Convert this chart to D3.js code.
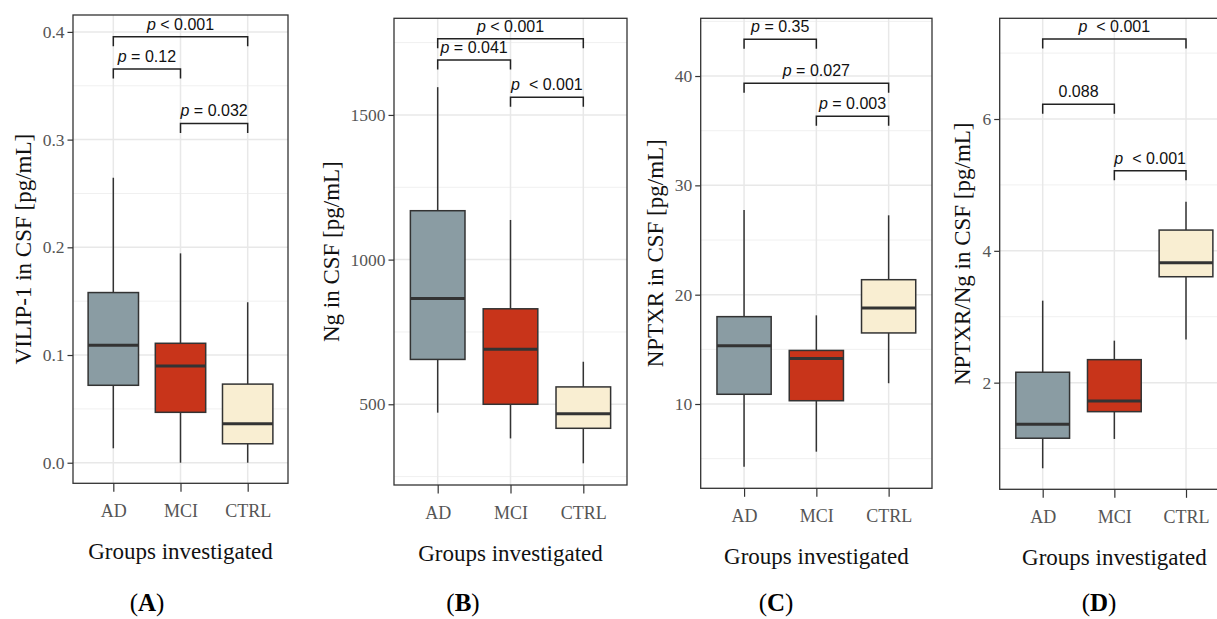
<!DOCTYPE html>
<html><head><meta charset="utf-8">
<script src="https://cdn.jsdelivr.net/npm/d3@7"></script>
<style>body{margin:0;background:#fff} svg{display:block}</style>
</head><body>
<svg id="chart" width="1217" height="619"></svg>
<script>
// ---------- data ----------
const groups = ["AD", "MCI", "CTRL"];
const groupColors = ["#8a9ca3", "#c8341a", "#f9eed2"];

// each box: [lower whisker, Q1, median, Q3, upper whisker]
const vilipBoxes = [[0.0134, 0.0719, 0.109, 0.158, 0.2646], [0.0, 0.0468, 0.0898, 0.1109, 0.1944], [0.0, 0.0176, 0.0362, 0.073, 0.149]];
const ngBoxes = [[471, 655, 866, 1169, 1596], [382, 500, 690, 830, 1137], [296, 417, 467, 560, 647]];
const nptxrBoxes = [[4.26, 10.89, 15.33, 17.99, 27.74], [5.64, 10.3, 14.17, 14.9, 18.11], [11.9, 16.5, 18.78, 21.37, 27.26]];
const ratioBoxes = [[0.701, 1.157, 1.369, 2.158, 3.244], [1.146, 1.56, 1.722, 2.349, 2.637], [2.655, 3.607, 3.82, 4.315, 4.745]];

const vilipTicks = [0, 0.1, 0.2, 0.3, 0.4];
const ngTicks = [500, 1000, 1500];
const nptxrTicks = [10, 20, 30, 40];
const ratioTicks = [2, 4, 6];

// pairwise tests: groups compared, bracket level (data units), italic p shown, text
const vilipTests = [
  {a: "AD", b: "CTRL", y: 0.3956, p: true, text: " < 0.001"},
  {a: "AD", b: "MCI", y: 0.3656, p: true, text: " = 0.12"},
  {a: "MCI", b: "CTRL", y: 0.315, p: true, text: " = 0.032"}
];
const ngTests = [
  {a: "AD", b: "CTRL", y: 1763, p: true, text: " < 0.001"},
  {a: "AD", b: "MCI", y: 1690, p: true, text: " = 0.041"},
  {a: "MCI", b: "CTRL", y: 1561, p: true, text: "  < 0.001"}
];
const nptxrTests = [
  {a: "AD", b: "MCI", y: 43.36, p: true, text: " = 0.35"},
  {a: "AD", b: "CTRL", y: 39.33, p: true, text: " = 0.027"},
  {a: "MCI", b: "CTRL", y: 36.31, p: true, text: " = 0.003"}
];
const ratioTests = [
  {a: "AD", b: "CTRL", y: 7.214, p: true, text: "  < 0.001"},
  {a: "AD", b: "MCI", y: 6.223, p: false, text: "0.088"},
  {a: "MCI", b: "CTRL", y: 5.216, p: true, text: "  < 0.001"}
];

const yTitles = ["VILIP-1 in CSF [pg/mL]", "Ng in CSF [pg/mL]", "NPTXR in CSF [pg/mL]", "NPTXR/Ng in CSF [pg/mL]"];
const panelLabels = ["A", "B", "C", "D"];
const xTitle = "Groups investigated";

// ---------- layout ----------
const panels = [
  {boxes: vilipBoxes, ticks: vilipTicks, tests: vilipTests, fmt: d3.format(".1f"), domain: [-0.0191, 0.4157], x0: 73, x1: 288, y0: 15, y1: 483.3},
  {boxes: ngBoxes, ticks: ngTicks, tests: ngTests, fmt: d3.format("d"), domain: [221, 1834], x0: 394, x1: 627, y0: 18.3, y1: 485},
  {boxes: nptxrBoxes, ticks: nptxrTicks, tests: nptxrTests, fmt: d3.format("d"), domain: [2.29, 45.28], x0: 700.7, x1: 932, y0: 18.3, y1: 488.3},
  {boxes: ratioBoxes, ticks: ratioTicks, tests: ratioTests, fmt: d3.format("d"), domain: [0.382, 7.528], x0: 999.7, x1: 1229, y0: 18.3, y1: 489.3}
];

const svg = d3.select("#chart");
const SERIF = "'Liberation Serif', 'Times New Roman', serif";
const SANS = "'Liberation Sans', Arial, sans-serif";
const INK = "#333333";

panels.forEach((P, i) => {
  const g = svg.append("g");
  // discrete x with ggplot expansion (0.6 units each side)
  const unit = (P.x1 - P.x0) / 3.2;
  const x = d3.scalePoint().domain(groups).range([P.x0 + 0.6 * unit, P.x1 - 0.6 * unit]);
  const y = d3.scaleLinear().domain(P.domain).range([P.y1, P.y0]);

  // minor grid values: midpoints of ticks, extended within domain
  const step = P.ticks[1] - P.ticks[0];
  const minor = [];
  for (let v = P.ticks[0] - step / 2; v <= P.domain[1]; v += step) {
    if (v >= P.domain[0]) minor.push(v);
  }
  g.selectAll(".minor").data(minor).join("line")
    .attr("x1", P.x0).attr("x2", P.x1)
    .attr("y1", d => y(d)).attr("y2", d => y(d))
    .attr("stroke", "#f0f0f0").attr("stroke-width", 1);
  g.selectAll(".major").data(P.ticks).join("line")
    .attr("x1", P.x0).attr("x2", P.x1)
    .attr("y1", d => y(d)).attr("y2", d => y(d))
    .attr("stroke", "#e8e8e8").attr("stroke-width", 1.5);
  g.selectAll(".vgrid").data(groups).join("line")
    .attr("x1", d => x(d)).attr("x2", d => x(d))
    .attr("y1", P.y0).attr("y2", P.y1)
    .attr("stroke", "#e8e8e8").attr("stroke-width", 1.5);

  // boxes
  const bw = 0.75 * unit;
  const bg = g.selectAll(".box").data(P.boxes).join("g");
  bg.append("line")
    .attr("x1", (d, k) => x(groups[k])).attr("x2", (d, k) => x(groups[k]))
    .attr("y1", d => y(d[4])).attr("y2", d => y(d[3]))
    .attr("stroke", INK).attr("stroke-width", 1.5);
  bg.append("line")
    .attr("x1", (d, k) => x(groups[k])).attr("x2", (d, k) => x(groups[k]))
    .attr("y1", d => y(d[1])).attr("y2", d => y(d[0]))
    .attr("stroke", INK).attr("stroke-width", 1.5);
  bg.append("rect")
    .attr("x", (d, k) => x(groups[k]) - bw / 2).attr("width", bw)
    .attr("y", d => y(d[3])).attr("height", d => y(d[1]) - y(d[3]))
    .attr("fill", (d, k) => groupColors[k])
    .attr("stroke", INK).attr("stroke-width", 1.5);
  bg.append("line")
    .attr("x1", (d, k) => x(groups[k]) - bw / 2).attr("x2", (d, k) => x(groups[k]) + bw / 2)
    .attr("y1", d => y(d[2])).attr("y2", d => y(d[2]))
    .attr("stroke", INK).attr("stroke-width", 3);

  // significance brackets
  const tip = 9.5;
  const tg = g.selectAll(".test").data(P.tests).join("g");
  tg.append("path")
    .attr("d", d => `M${x(d.a)},${y(d.y) + tip}V${y(d.y)}H${x(d.b)}V${y(d.y) + tip}`)
    .attr("fill", "none").attr("stroke", "#222").attr("stroke-width", 1.5);
  const tt = tg.append("text")
    .attr("x", d => (x(d.a) + x(d.b)) / 2)
    .attr("y", d => y(d.y) - 7)
    .attr("text-anchor", "middle")
    .attr("font-family", SANS).attr("font-size", 16).attr("fill", "#111")
    .style("white-space", "pre");
  tt.each(function(d) {
    const t = d3.select(this);
    if (d.p) t.append("tspan").attr("font-style", "italic").text("p");
    t.append("tspan").text(d.text);
  });

  // panel border
  g.append("rect")
    .attr("x", P.x0).attr("y", P.y0)
    .attr("width", P.x1 - P.x0).attr("height", P.y1 - P.y0)
    .attr("fill", "none").attr("stroke", INK).attr("stroke-width", 1.3);

  // y axis
  const yAxis = g.append("g").attr("transform", `translate(${P.x0},0)`)
    .call(d3.axisLeft(y).tickValues(P.ticks).tickFormat(P.fmt).tickSize(5.5).tickPadding(3));
  yAxis.select(".domain").remove();
  yAxis.selectAll(".tick line").attr("stroke", INK).attr("stroke-width", 1.2);
  yAxis.selectAll(".tick text").attr("font-family", SERIF).attr("font-size", 17.5).attr("fill", "#555");

  // x axis
  const xAxis = g.append("g").attr("transform", `translate(0,${P.y1})`)
    .call(d3.axisBottom(x).tickSize(8.5).tickPadding(0));
  xAxis.select(".domain").remove();
  xAxis.selectAll(".tick line").attr("stroke", INK).attr("stroke-width", 1.2);
  xAxis.selectAll(".tick text").attr("font-family", SERIF).attr("font-size", 18).attr("fill", "#555")
    .attr("dy", null).attr("y", 34);

  // y title (placed left of tick labels)
  const bb = yAxis.node().getBBox();
  const ty = (P.y0 + P.y1) / 2;
  const tx = P.x0 + bb.x - 12;
  g.append("text")
    .attr("transform", `translate(${tx},${ty}) rotate(-90)`)
    .attr("text-anchor", "middle")
    .attr("font-family", SERIF).attr("font-size", 23).attr("fill", "#111")
    .text(yTitles[i]);

  // x title
  const cx = (x(groups[0]) + x(groups[2])) / 2;
  g.append("text")
    .attr("x", cx).attr("y", P.y1 + 76)
    .attr("text-anchor", "middle")
    .attr("font-family", SERIF).attr("font-size", 23).attr("fill", "#111")
    .text(xTitle);

  // panel label
  const lx = [147, 463, 776, 1099][i];
  const lab = g.append("text")
    .attr("x", lx).attr("y", 611)
    .attr("text-anchor", "middle")
    .attr("font-family", SERIF).attr("font-size", 25).attr("fill", "#000");
  lab.append("tspan").text("(");
  lab.append("tspan").attr("font-weight", "bold").text(panelLabels[i]);
  lab.append("tspan").text(")");
});
</script>
</body></html>
